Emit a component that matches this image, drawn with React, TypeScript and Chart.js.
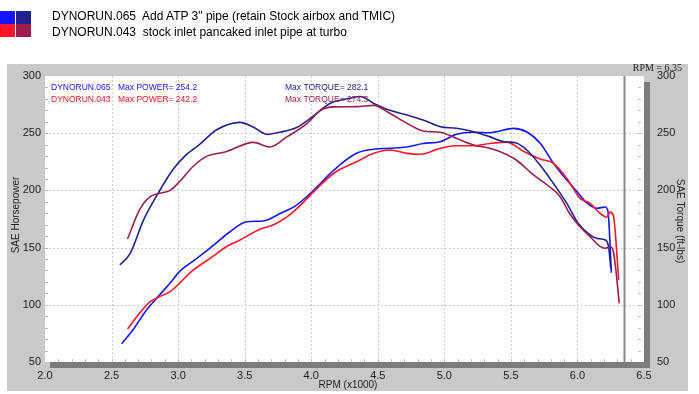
import React, { useEffect, useRef } from 'react';
import { Chart, registerables } from 'chart.js';

Chart.register(...registerables);

// ---- data ----
const rpm065Power = [2.576, 2.66, 2.76, 2.86, 2.94, 3.01, 3.11, 3.24, 3.38, 3.515, 3.64, 3.77, 3.89, 4.02, 4.17, 4.34, 4.47, 4.59, 4.72, 4.84, 4.97, 5.09, 5.22, 5.34, 5.52, 5.62, 5.72, 5.82, 5.92, 6.007, 6.07, 6.145, 6.21, 6.23, 6.255];
const power065 = [66, 78, 95, 108.5, 119, 129, 138, 149.5, 163, 172.6, 173.3, 180, 187.2, 200.3, 217.8, 232.4, 236, 236.8, 238, 241, 242.6, 249, 250.8, 250.4, 254.2, 251, 241.2, 223.7, 209, 197.5, 189, 184.4, 185.5, 181, 128];

const rpm043Power = [2.62, 2.71, 2.79, 2.85, 2.94, 3.01, 3.11, 3.24, 3.38, 3.465, 3.615, 3.715, 3.82, 3.92, 4.02, 4.17, 4.34, 4.47, 4.59, 4.72, 4.82, 4.97, 5.09, 5.22, 5.34, 5.47, 5.59, 5.72, 5.82, 5.92, 6.02, 6.095, 6.17, 6.22, 6.245, 6.27, 6.31];
const power043 = [78.8, 92.6, 102.7, 106.5, 111.5, 118.8, 130, 140.6, 152, 156.6, 166, 169.8, 177, 187.2, 198.9, 215, 225, 232.4, 235.3, 232.4, 231.6, 236.8, 239, 239, 241, 242.2, 234.5, 227.5, 223.7, 210.6, 193, 188.7, 180, 176.5, 181, 178, 121.7];

const rpm065Torque = [2.563, 2.64, 2.74, 2.85, 2.96, 3.06, 3.16, 3.29, 3.465, 3.56, 3.67, 3.77, 3.89, 4.01, 4.14, 4.29, 4.37, 4.47, 4.59, 4.72, 4.84, 4.97, 5.09, 5.22, 5.34, 5.45, 5.54, 5.62, 5.72, 5.82, 5.92, 6.007, 6.08, 6.15, 6.21, 6.235, 6.25];
const torque065 = [134.8, 145, 174, 197.5, 218, 231, 240, 253, 259.5, 255.7, 249, 251, 255, 264.5, 276, 280.5, 282.1, 276, 270, 265.9, 261.5, 255.7, 254.3, 251.3, 247, 242.6, 241.5, 235.3, 222, 206, 188.7, 171, 162.5, 158, 156.7, 150, 132];

const rpm043Torque = [2.62, 2.71, 2.79, 2.86, 2.94, 3.01, 3.11, 3.21, 3.36, 3.565, 3.69, 3.82, 3.97, 4.07, 4.17, 4.34, 4.47, 4.59, 4.72, 4.84, 4.97, 5.09, 5.22, 5.34, 5.42, 5.54, 5.67, 5.79, 5.87, 5.94, 6.007, 6.095, 6.17, 6.21, 6.245, 6.27, 6.315];
const torque043 = [157.5, 183, 194.5, 197.5, 200, 207.6, 220.7, 229.5, 233.8, 242, 238, 247, 258.6, 270, 273, 273.2, 274.3, 267.4, 258.6, 252, 250.8, 245.5, 239.7, 236.8, 233.8, 226.6, 213.5, 203.2, 194.5, 180, 169.8, 159.5, 151, 149.4, 150.8, 146.4, 101.3];

const runNames = ['DYNORUN.065', 'DYNORUN.043'];
const runDescriptions = ['Add ATP 3" pipe (retain Stock airbox and TMIC)', 'stock inlet pancaked inlet pipe at turbo'];
const maxPower = ['254.2', '242.2'];
const maxTorque = ['282.1', '274.3'];
const cursorRpm = 6.35;

const xMin = 2.0, xMax = 6.5, xStep = 0.5;
const yMin = 50, yMax = 300, yStep = 50;

const BLUE = '#1414ff';
const RED = '#ff1428';
const NAVY = '#22228e';
const MAROON = '#9c1d4e';
const FONT = 'Arial, "Liberation Sans", sans-serif';

const toPoints = (xs: number[], ys: number[]) => xs.map((x, i) => ({ x, y: ys[i] }));

const decor = {
  id: 'decor',
  beforeDraw(chart: any) {
    const { ctx, chartArea: a, scales } = chart;
    const W = chart.width, H = chart.height;
    ctx.save();
    ctx.fillStyle = '#ffffff';
    ctx.fillRect(0, 0, W, H);
    // grey panel
    ctx.fillStyle = '#c9c8ca';
    ctx.fillRect(7, 64, 681, 327);
    // shadow
    ctx.fillStyle = '#7c7c7c';
    ctx.fillRect(a.right, a.top + 6, 6, a.bottom - a.top);
    ctx.fillRect(a.left + 5, a.bottom, a.right - a.left + 1, 6);
    // plot area
    ctx.fillStyle = '#ffffff';
    ctx.fillRect(a.left, a.top, a.right - a.left, a.bottom - a.top);

    // dotted grid
    const xs = scales.x, ys = scales.y;
    ctx.strokeStyle = '#cdcdcd';
    ctx.lineWidth = 1;
    ctx.setLineDash([2, 2]);
    for (let v = xMin + xStep; v < xMax - 1e-6; v += xStep) {
      const px = Math.round(xs.getPixelForValue(v)) + 0.5;
      ctx.beginPath(); ctx.moveTo(px, a.top); ctx.lineTo(px, a.bottom); ctx.stroke();
    }
    for (let v = yMin + yStep; v < yMax - 1e-6; v += yStep) {
      const py = Math.round(ys.getPixelForValue(v)) + 0.5;
      ctx.beginPath(); ctx.moveTo(a.left, py); ctx.lineTo(a.right, py); ctx.stroke();
    }
    ctx.setLineDash([]);
    // minor ticks
    ctx.strokeStyle = '#bcbcbc';
    for (let i = 1; i < 45; i++) {
      const v = xMin + i * 0.1;
      const px = Math.round(xs.getPixelForValue(v)) + 0.5;
      ctx.beginPath(); ctx.moveTo(px, a.bottom); ctx.lineTo(px, a.bottom - 3); ctx.stroke();
    }
    for (let v = yMin + 10; v < yMax; v += 10) {
      const py = Math.round(ys.getPixelForValue(v)) + 0.5;
      ctx.beginPath(); ctx.moveTo(a.left, py); ctx.lineTo(a.left + 3, py); ctx.stroke();
      ctx.beginPath(); ctx.moveTo(a.right - 6, py); ctx.lineTo(a.right - 3, py); ctx.stroke();
    }
    ctx.restore();
  },
  afterDatasetsDraw(chart: any) {
    const { ctx, chartArea: a, scales } = chart;
    ctx.save();
    // cursor line
    const cx = Math.round(scales.x.getPixelForValue(cursorRpm)) + 0.5;
    ctx.strokeStyle = '#8a8a8a';
    ctx.lineWidth = 2;
    ctx.beginPath(); ctx.moveTo(cx, a.top); ctx.lineTo(cx, a.bottom); ctx.stroke();

    ctx.fillStyle = '#222';
    ctx.font = '10px "Liberation Serif", "Times New Roman", serif';
    ctx.textAlign = 'right';
    ctx.textBaseline = 'middle';
    ctx.fillText('RPM = ' + cursorRpm.toFixed(2), 682, 68);

    // run annotations
    ctx.font = '8.5px ' + FONT;
    ctx.textAlign = 'left';
    const rowY = [88, 100];
    const nameCol = [BLUE, RED];
    const tqCol = [NAVY, MAROON];
    for (let i = 0; i < 2; i++) {
      ctx.fillStyle = nameCol[i];
      ctx.fillText(runNames[i], 51, rowY[i]);
      ctx.fillText('Max POWER= ' + maxPower[i], 118, rowY[i]);
      ctx.fillStyle = tqCol[i];
      ctx.fillText('Max TORQUE= ' + maxTorque[i], 285, rowY[i]);
    }

    // axis titles
    ctx.fillStyle = '#222';
    ctx.font = '10px ' + FONT;
    ctx.textAlign = 'center';
    ctx.fillText('RPM (x1000)', 348, 385);
    ctx.save();
    ctx.translate(16, 215);
    ctx.rotate(-Math.PI / 2);
    ctx.fillText('SAE Horsepower', 0, 0);
    ctx.restore();
    ctx.save();
    ctx.translate(680, 221);
    ctx.rotate(Math.PI / 2);
    ctx.fillText('SAE Torque (ft-lbs)', 0, 0);
    ctx.restore();
    ctx.restore();
  },
};

export default function App() {
  const ref = useRef<HTMLCanvasElement | null>(null);

  useEffect(() => {
    document.body.style.margin = '0';
    if (!ref.current) return;
    const line = (label: string, xs: number[], ys: number[], color: string, axis: string) => ({
      label,
      data: toPoints(xs, ys),
      borderColor: color,
      backgroundColor: color,
      borderWidth: 1.6,
      pointRadius: 0,
      cubicInterpolationMode: 'monotone' as const,
      yAxisID: axis,
      fill: false,
    });
    const tickFont = { family: FONT, size: 11 };
    const noGrid = { display: false, drawTicks: false, tickLength: 0 };
    const chart = new Chart(ref.current, {
      type: 'line',
      data: {
        datasets: [
          line('043 torque', rpm043Torque, torque043, MAROON, 'y2'),
          line('065 torque', rpm065Torque, torque065, NAVY, 'y2'),
          line('043 power', rpm043Power, power043, RED, 'y'),
          line('065 power', rpm065Power, power065, BLUE, 'y'),
        ],
      },
      options: {
        animation: false,
        responsive: false,
        devicePixelRatio: 1,
        layout: { padding: { top: 76, left: 0, right: 0, bottom: 0 } },
        plugins: { legend: { display: false }, tooltip: { enabled: false } },
        scales: {
          x: {
            type: 'linear',
            min: xMin,
            max: xMax,
            grid: noGrid,
            border: { display: false },
            ticks: {
              stepSize: xStep,
              color: '#222',
              font: tickFont,
              padding: 7,
              maxRotation: 0,
              callback: (v: any) => Number(v).toFixed(1),
            },
            afterFit: (s: any) => { s.height = 32; },
          },
          y: {
            position: 'left',
            min: yMin,
            max: yMax,
            grid: noGrid,
            border: { display: false },
            ticks: { stepSize: yStep, color: '#222', font: tickFont, padding: 4 },
            afterFit: (s: any) => { s.width = 45; },
          },
          y2: {
            position: 'right',
            min: yMin,
            max: yMax,
            grid: noGrid,
            border: { display: false },
            ticks: { stepSize: yStep, color: '#222', font: tickFont, padding: 13 },
            afterFit: (s: any) => { s.width = 55; },
          },
        },
      },
      plugins: [decor],
    });
    return () => chart.destroy();
  }, []);

  const sq = (bg: string, left: number, top: number) => (
    <div style={{ position: 'absolute', left, top, width: 15, height: 13, background: bg }} />
  );

  return (
    <div style={{ position: 'fixed', left: 0, top: 0, width: 699, height: 394, background: '#fff', fontFamily: FONT }}>
      <canvas ref={ref} width={699} height={394} style={{ position: 'absolute', left: 0, top: 0, width: 699, height: 394 }} />
      {sq(BLUE, 0, 11)}
      {sq(NAVY, 16, 11)}
      {sq(RED, 0, 24)}
      {sq(MAROON, 16, 24)}
      <div style={{ position: 'absolute', left: 52, top: 9, fontSize: 12, lineHeight: '15px', whiteSpace: 'pre', color: '#000' }}>
        {runNames[0] + '  ' + runDescriptions[0]}
      </div>
      <div style={{ position: 'absolute', left: 52, top: 25, fontSize: 12, lineHeight: '15px', whiteSpace: 'pre', color: '#000' }}>
        {runNames[1] + '  ' + runDescriptions[1]}
      </div>
    </div>
  );
}
